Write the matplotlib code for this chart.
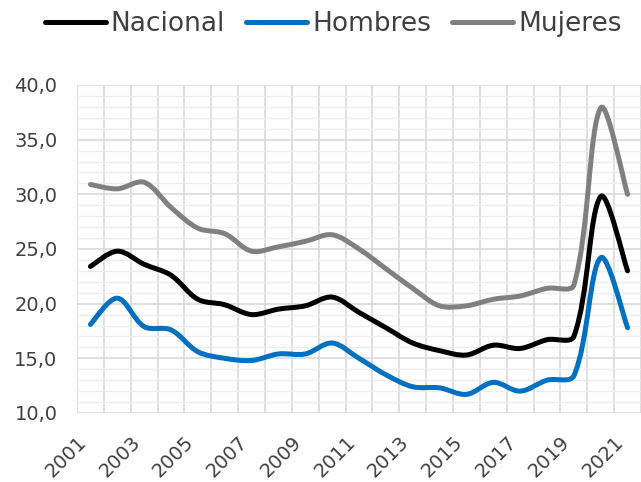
import numpy as np
import matplotlib
matplotlib.use('Agg')
import matplotlib.pyplot as plt
from matplotlib.path import Path
from matplotlib.patches import PathPatch
from matplotlib.lines import Line2D

# Data
years = list(range(2001, 2022))
nacional = [23.4, 24.8, 23.6, 22.6, 20.4, 19.9, 19.0, 19.5, 19.8, 20.6, 19.2,
            17.8, 16.4, 15.7, 15.3, 16.2, 15.9, 16.7, 17.0, 29.8, 23.0]
hombres = [18.1, 20.5, 17.9, 17.6, 15.6, 15.0, 14.8, 15.4, 15.4, 16.4, 15.0,
           13.5, 12.4, 12.3, 11.7, 12.8, 12.0, 13.0, 13.4, 24.2, 17.8]
mujeres = [30.9, 30.5, 31.1, 28.8, 26.9, 26.4, 24.8, 25.2, 25.7, 26.3, 25.0,
           23.2, 21.4, 19.8, 19.8, 20.4, 20.7, 21.4, 21.7, 37.9, 30.0]
series = [('Nacional', nacional, 'black'),
          ('Hombres', hombres, '#0070C0'),
          ('Mujeres', mujeres, '#808080')]


def smooth_path(x, y, ysc):
    # Excel-like smoothed line: Bezier segments, tangents weighted by
    # segment lengths measured on screen (ysc = y pixel size / x pixel size)
    pts = np.column_stack([x, y]).astype(float)
    n = len(pts)

    def dist(a, b):
        return np.hypot(b[0] - a[0], (b[1] - a[1]) * ysc)

    verts = [pts[0]]
    codes = [Path.MOVETO]
    for i in range(n - 1):
        p0 = pts[max(i - 1, 0)]
        p1 = pts[i]
        p2 = pts[i + 1]
        p3 = pts[min(i + 2, n - 1)]
        d01, d12, d23 = dist(p0, p1), dist(p1, p2), dist(p2, p3)
        f1 = d12 / (d01 + d12) if d01 > 0 else 0.5
        f2 = d12 / (d12 + d23) if d23 > 0 else 0.5
        c1 = p1 + (p2 - p0) * f1 / 3.0
        c2 = p2 - (p3 - p1) * f2 / 3.0
        verts += [c1, c2, p2]
        codes += [Path.CURVE4] * 3
    return Path(verts, codes)


plt.rcParams['font.family'] = ['DejaVu Sans']
text_color = '#404040'

fig = plt.figure(figsize=(6.41, 4.82), dpi=100)
ax = fig.add_axes([0.1201, 0.1432, 0.8799, 0.6805])

x = np.arange(len(years))
# pixels per y unit / pixels per x unit
ysc = (0.6805 * 482 / 30) / (0.8799 * 641 / 21)
handles = []
for name, vals, color in series:
    patch = PathPatch(smooth_path(x, vals, ysc), facecolor='none', edgecolor=color,
                      lw=3.6, capstyle='round', joinstyle='round', zorder=3)
    ax.add_patch(patch)
    handles.append(Line2D([], [], color=color, lw=3.6, solid_capstyle='round', label=name))

ax.set_xlim(-0.5, len(years) - 0.5)
ax.set_ylim(10, 40)

ax.set_xticks(x[::2])
ax.set_xticklabels([str(y) for y in years[::2]], rotation=45, ha='right')
ax.set_xticks(np.arange(-0.5, len(years), 1), minor=True)
ax.set_yticks(np.arange(10, 41, 5))
ax.set_yticklabels([('%.1f' % v).replace('.', ',') for v in np.arange(10, 41, 5)])
ax.set_yticks(np.arange(10, 41, 1), minor=True)

ax.tick_params(axis='both', which='both', length=0, labelsize=14, colors=text_color)
ax.tick_params(axis='y', pad=14)
ax.tick_params(axis='x', pad=14)

ax.grid(which='minor', axis='x', color='#d9d9d9', lw=1.2)
ax.grid(which='major', axis='x', visible=False)
ax.grid(which='major', axis='y', color='#d9d9d9', lw=1.2)
ax.grid(which='minor', axis='y', color='#ededed', lw=1.0)
ax.set_axisbelow(True)
for s in ax.spines.values():
    s.set_visible(False)

fig.legend(handles=handles, loc='center', bbox_to_anchor=(0.52, 0.95), ncol=3,
           frameon=False, fontsize=19, handlelength=2.3, handletextpad=0.2,
           columnspacing=0.8, labelcolor=text_color)

fig.savefig('out.png', dpi=100)
